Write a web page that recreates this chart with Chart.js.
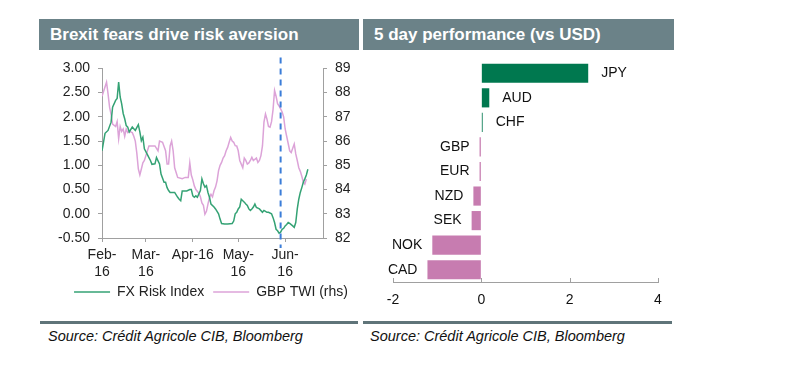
<!DOCTYPE html>
<html>
<head>
<meta charset="utf-8">
<script src="https://cdn.jsdelivr.net/npm/chart.js@4.4.0/dist/chart.umd.min.js"></script>
<style>
  body { margin: 0; background: #fff; width: 809px; height: 365px; position: relative; overflow: hidden;
         font-family: "Liberation Sans", Arial, sans-serif; }
  .head { position: absolute; top: 19px; height: 31px; background: #6b8288; color: #fff; font-weight: bold;
          font-size: 17px; line-height: 32px; padding-left: 11px; box-sizing: border-box; }
  .rule { position: absolute; top: 321px; height: 3px; background: #5f7479; }
  .src { position: absolute; top: 328px; font-style: italic; font-size: 14.5px; color: #111; }
  canvas { position: absolute; }
</style>
</head>
<body>
<div class="head" style="left:39px;width:320px;">Brexit fears drive risk aversion</div>
<div class="head" style="left:363px;width:311px;">5 day performance (vs USD)</div>

<canvas id="riskChart" width="342" height="257" style="left:40px;top:52px;"></canvas>
<canvas id="perfChart" width="311" height="260" style="left:363px;top:52px;"></canvas>

<div class="rule" style="left:40px;width:318px;"></div>
<div class="rule" style="left:363px;width:309px;"></div>
<div class="src" style="left:48px;">Source: Crédit Agricole CIB, Bloomberg</div>
<div class="src" style="left:370px;">Source: Crédit Agricole CIB, Bloomberg</div>

<script>
// --- left chart: days counted from 1 Feb 2016 ---
const monthTicks = [0, 29, 60, 90, 121];
const monthLabels = [['Feb-', '16'], ['Mar-', '16'], 'Apr-16', ['May-', '16'], ['Jun-', '16']];
const markerDay = 118; // dashed line

const fxDays = [0, 2, 4, 6, 7, 9, 10, 11, 12, 13,
  14, 15, 16, 17, 18, 20, 22, 24, 25, 26,
  27, 28, 30, 31, 32, 33, 35, 36, 38, 39,
  41, 42, 43, 44, 45, 48, 50, 51, 52, 53,
  56, 58, 59, 60, 61, 62, 63, 64, 65, 66,
  67, 68, 69, 70, 71, 72, 74, 75, 77, 78,
  79, 81, 83, 86, 87, 88, 89, 90, 91, 92,
  93, 94, 95, 96, 97, 98, 99, 100, 101, 102,
  104, 106, 107, 108, 109, 110, 112, 113, 114, 115,
  116, 117, 118, 119, 120, 121, 122, 123, 124, 126,
  127, 128, 129, 130, 131, 132, 133, 134, 135, 136];
const fxRisk = [1.30, 1.66, 1.72, 1.89, 2.20, 2.34, 2.38, 2.72, 2.41, 2.27,
  2.07, 1.96, 1.82, 1.79, 1.69, 1.79, 1.72, 1.84, 1.69, 1.51,
  1.58, 1.34, 1.22, 1.16, 1.10, 1.02, 1.03, 1.16, 1.03, 0.82,
  0.65, 0.65, 0.54, 0.48, 0.44, 0.44, 0.34, 0.30, 0.27, 0.47,
  0.47, 0.50, 0.50, 0.37, 0.34, 0.37, 0.34, 0.41, 0.48, 0.72,
  0.62, 0.55, 0.58, 0.44, 0.34, 0.20, 0.14, 0.10, 0.00, -0.11,
  -0.20, -0.21, -0.21, -0.20, -0.15, 0.00, 0.03, 0.10, 0.14, 0.30,
  0.27, 0.24, 0.20, 0.17, 0.10, 0.07, 0.10, 0.14, 0.20, 0.13,
  0.10, 0.03, 0.07, 0.05, 0.03, 0.03, 0.00, -0.08, -0.18, -0.32,
  -0.35, -0.40, -0.38, -0.32, -0.30, -0.25, -0.22, -0.18, -0.20, -0.25,
  -0.28, -0.18, 0.10, 0.30, 0.44, 0.54, 0.65, 0.72, 0.80, 0.92];

const twiDays = [0, 3, 4, 5, 6, 7, 9, 10, 11, 12,
  13, 14, 15, 16, 17, 18, 20, 21, 22, 23,
  24, 25, 26, 27, 28, 29, 31, 33, 35, 37,
  38, 40, 42, 43, 44, 45, 46, 47, 48, 50,
  53, 55, 57, 58, 59, 60, 61, 62, 64, 65,
  66, 67, 68, 69, 70, 71, 72, 73, 74, 75,
  76, 77, 78, 79, 80, 81, 82, 83, 84, 85,
  86, 87, 88, 89, 90, 91, 92, 93, 94, 95,
  96, 97, 98, 99, 100, 101, 102, 103, 104, 105,
  106, 107, 108, 109, 110, 111, 112, 113, 114, 115,
  116, 117, 118, 119, 120, 121, 122, 123, 124, 125,
  126, 127, 128, 129, 130, 131, 132, 133, 134, 135];
const gbpTwi = [87.85, 88.43, 87.95, 87.4, 87.1, 86.7, 86.6, 86.8, 86.1, 86.6,
  86.4, 86.5, 86.2, 86.5, 86.35, 86.4, 86.35, 86.2, 86.0, 85.5,
  84.85, 84.6, 84.85, 85.1, 85.2, 85.4, 85.8, 85.8, 85.8, 85.6,
  86.0, 85.95, 85.6, 85.05, 85.05, 85.8, 86.0, 85.6, 84.9, 84.5,
  84.45, 84.5, 84.5, 85.1, 84.6, 84.4, 84.15, 84.0, 83.85, 83.7,
  83.45, 83.35, 82.98, 83.1, 83.4, 83.67, 83.8, 83.7, 83.95, 84.1,
  84.36, 84.78, 85.0, 85.12, 85.3, 85.4, 85.6, 85.74, 85.95, 86.15,
  86.0, 85.95, 85.81, 85.8, 85.6, 85.2, 85.05, 84.9, 85.3, 85.2,
  85.05, 85.1, 85.2, 85.33, 85.2, 85.25, 85.3, 85.12, 85.2, 85.4,
  85.8, 86.78, 87.12, 86.9, 86.6, 86.57, 86.8, 87.3, 88.09, 87.85,
  87.54, 87.45, 87.33, 87.2, 87.0, 86.5, 86.2, 85.9, 85.6, 85.53,
  85.7, 85.88, 85.47, 85.2, 84.9, 84.75, 84.55, 84.3, 84.22, 84.43];

// --- right chart ---
const currencies = ['JPY', 'AUD', 'CHF', 'GBP', 'EUR', 'NZD', 'SEK', 'NOK', 'CAD'];
const perf = [2.42, 0.18, 0.03, -0.04, -0.04, -0.18, -0.22, -1.11, -1.22];
const perfTicks = [-2, 0, 2, 4];

const FONT = '"Liberation Sans", Arial, sans-serif';
Chart.defaults.font.family = FONT;
Chart.defaults.font.size = 14;
Chart.defaults.color = '#222';
Chart.defaults.animation = false;

const axisGrey = '#a0a0a0';

// dashed blue marker, runs a bit past the plot top and bottom
const markerLine = {
  id: 'markerLine',
  afterDatasetsDraw(chart) {
    const ctx = chart.ctx;
    const x = chart.scales.x.getPixelForValue(markerDay);
    ctx.save();
    ctx.strokeStyle = '#3b7dd8';
    ctx.lineWidth = 2;
    ctx.setLineDash([6, 5]);
    ctx.beginPath();
    ctx.moveTo(x, chart.chartArea.top - 11);
    ctx.lineTo(x, chart.chartArea.bottom + 10);
    ctx.stroke();
    ctx.restore();
  }
};

new Chart(document.getElementById('riskChart'), {
  type: 'line',
  data: {
    datasets: [{
      label: 'FX Risk Index',
      data: fxDays.map((d, i) => ({ x: d, y: fxRisk[i] })),
      borderColor: '#34a274',
      backgroundColor: '#34a274',
      borderWidth: 1.5,
      pointRadius: 0,
      yAxisID: 'y'
    }, {
      label: 'GBP TWI (rhs)',
      data: twiDays.map((d, i) => ({ x: d, y: gbpTwi[i] })),
      borderColor: '#dca3d8',
      backgroundColor: '#dca3d8',
      borderWidth: 1.5,
      pointRadius: 0,
      yAxisID: 'y1'
    }]
  },
  options: {
    responsive: false,
    layout: { padding: { top: 16, left: 0, right: 0, bottom: 0 } },
    plugins: {
      tooltip: { enabled: false },
      legend: {
        position: 'bottom',
        labels: {
          usePointStyle: true,
          pointStyle: 'line',
          pointStyleWidth: 36,
          boxHeight: 14,
          padding: 9,
          color: '#222'
        }
      }
    },
    scales: {
      x: {
        type: 'linear',
        min: 0,
        max: 146,
        afterBuildTicks: axis => { axis.ticks = monthTicks.map(v => ({ value: v })); },
        afterFit: scale => { scale.height = 38; },
        ticks: {
          autoSkip: false,
          maxRotation: 0,
          padding: 5,
          callback: v => monthLabels[monthTicks.indexOf(v)]
        },
        grid: { drawOnChartArea: false, tickLength: 4, color: axisGrey },
        border: { color: axisGrey }
      },
      y: {
        position: 'left',
        min: -0.5,
        max: 3,
        afterFit: scale => { scale.width = 62; },
        ticks: { stepSize: 0.5, padding: 8, callback: v => v.toFixed(2) },
        grid: { drawOnChartArea: false, tickLength: 4, color: axisGrey },
        border: { color: axisGrey }
      },
      y1: {
        position: 'right',
        min: 82,
        max: 89,
        afterFit: scale => { scale.width = 59; },
        ticks: { stepSize: 1, padding: 8 },
        grid: { drawOnChartArea: false, tickLength: 4, color: axisGrey },
        border: { color: axisGrey }
      }
    }
  },
  plugins: [markerLine]
});

// currency names at the end of each bar
const barLabels = {
  id: 'barLabels',
  afterDatasetsDraw(chart) {
    const ctx = chart.ctx;
    const meta = chart.getDatasetMeta(0);
    ctx.save();
    ctx.font = '14px ' + FONT;
    ctx.fillStyle = '#111';
    ctx.textBaseline = 'middle';
    meta.data.forEach((bar, i) => {
      if (perf[i] >= 0) {
        ctx.textAlign = 'left';
        ctx.fillText(currencies[i], bar.x + 13, bar.y);
      } else {
        ctx.textAlign = 'right';
        ctx.fillText(currencies[i], bar.x - 10, bar.y);
      }
    });
    ctx.restore();
  }
};

// small tick marks pointing up from the value axis
const innerTicks = {
  id: 'innerTicks',
  afterDraw(chart) {
    const ctx = chart.ctx;
    const s = chart.scales.x;
    ctx.save();
    ctx.strokeStyle = axisGrey;
    ctx.lineWidth = 1;
    s.ticks.forEach(t => {
      const x = Math.round(s.getPixelForValue(t.value)) + 0.5;
      ctx.beginPath();
      ctx.moveTo(x, s.top);
      ctx.lineTo(x, s.top - 4);
      ctx.stroke();
    });
    ctx.restore();
  }
};

new Chart(document.getElementById('perfChart'), {
  type: 'bar',
  data: {
    labels: currencies,
    datasets: [{
      data: perf,
      backgroundColor: perf.map(v => v >= 0 ? '#00784f' : '#c77cb0'),
      barPercentage: 0.78,
      categoryPercentage: 1
    }]
  },
  options: {
    responsive: false,
    indexAxis: 'y',
    layout: { padding: { top: 9, left: 30, right: 16, bottom: 0 } },
    plugins: { legend: { display: false }, tooltip: { enabled: false } },
    scales: {
      y: { type: 'category', display: false },
      x: {
        min: -2,
        max: 4,
        afterBuildTicks: axis => { axis.ticks = perfTicks.map(v => ({ value: v })); },
        afterFit: scale => { scale.height = 30; },
        ticks: { padding: 10, color: '#111' },
        grid: { display: true, drawOnChartArea: false, drawTicks: false, color: axisGrey },
        border: { color: axisGrey }
      }
    }
  },
  plugins: [barLabels, innerTicks]
});
</script>
</body>
</html>
